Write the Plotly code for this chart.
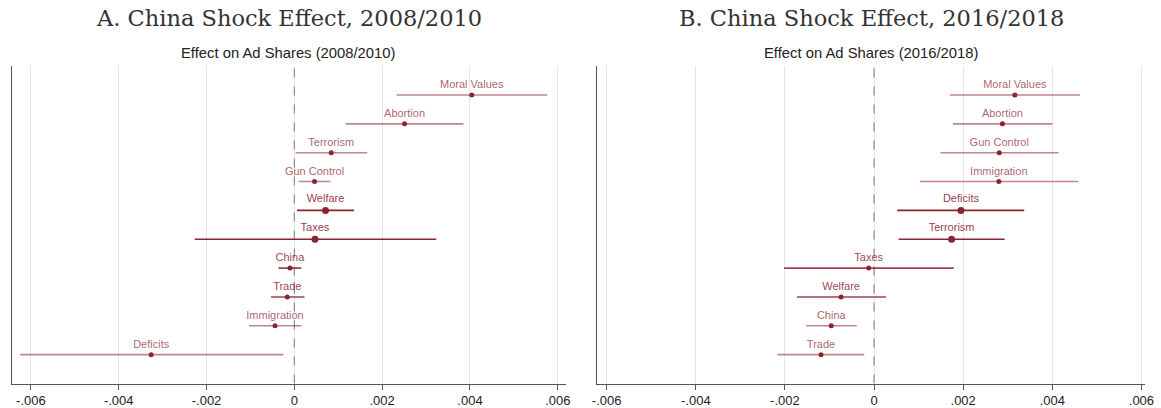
import plotly.graph_objects as go

# ---------------- data ----------------
topics_a = ["Moral Values", "Abortion", "Terrorism", "Gun Control", "Welfare",
            "Taxes", "China", "Trade", "Immigration", "Deficits"]
coef_a = [0.00404, 0.00251, 0.00084, 0.00046, 0.00071, 0.00047, -0.00010, -0.00016, -0.00044, -0.00326]
lo_a = [0.00233, 0.00117, 0.00003, 0.00010, 0.00006, -0.00227, -0.00036, -0.00053, -0.00103, -0.00624]
hi_a = [0.00576, 0.00385, 0.00166, 0.00082, 0.00136, 0.00323, 0.00016, 0.00023, 0.00016, -0.00025]

topics_b = ["Moral Values", "Abortion", "Gun Control", "Immigration", "Deficits",
            "Terrorism", "Taxes", "Welfare", "China", "Trade"]
coef_b = [0.00316, 0.00288, 0.00281, 0.00280, 0.00195, 0.00174, -0.00012, -0.00074, -0.00096, -0.00119]
lo_b = [0.00170, 0.00177, 0.00149, 0.00103, 0.00052, 0.00055, -0.00202, -0.00173, -0.00152, -0.00217]
hi_b = [0.00462, 0.00400, 0.00414, 0.00458, 0.00337, 0.00293, 0.00179, 0.00027, -0.00039, -0.00022]

tick_vals = [-0.006, -0.004, -0.002, 0, 0.002, 0.004, 0.006]
tick_text = ["-.006", "-.004", "-.002", "0", ".002", ".004", ".006"]

panel_titles = ["A. China Shock Effect, 2008/2010", "B. China Shock Effect, 2016/2018"]
sub_titles = ["Effect on Ad Shares (2008/2010)", "Effect on Ad Shares (2016/2018)"]

# emphasis level per row (style): 0 light, 1 medium, 2 dark
emph_a = [0, 0, 0, 0, 2, 2, 1, 1, 0, 0]
emph_b = [0, 0, 0, 0, 2, 2, 1, 1, 0, 0]

# ---------------- styles ----------------
W, H = 1161, 408
line_alpha = {0: 0.55, 1: 0.85, 2: 1.0}
text_alpha = {0: 0.72, 1: 0.85, 2: 0.9}
msize = {0: 5, 1: 5, 2: 7}
base = (140, 35, 50)


def rgba(a):
    return f"rgba({base[0]},{base[1]},{base[2]},{a})"


x_dom = [[12 / W, 565.7 / W], [597.3 / W, 1145 / W]]
x_rng = [[-0.00643, 0.00618], [-0.00621, 0.00608]]
y_bot = 383.5
y_top = 66
row_px = 28.85
y_dom = [1 - y_bot / H, 1 - y_top / H]
y_rng = [0, (y_bot - y_top) / row_px]

fig = go.Figure()

panels = [(topics_a, coef_a, lo_a, hi_a, emph_a), (topics_b, coef_b, lo_b, hi_b, emph_b)]
for p, (tp, cf, lo, hi, em) in enumerate(panels):
    xa = "x" if p == 0 else "x2"
    ya = "y" if p == 0 else "y2"
    n = len(tp)
    pos = [n - i for i in range(n)]
    # zero reference line
    fig.add_trace(go.Scatter(x=[0, 0], y=[y_rng[0], y_rng[1]], mode="lines",
                             line=dict(color="#8a8a8a", width=1.2, dash="dash"),
                             xaxis=xa, yaxis=ya, showlegend=False, hoverinfo="skip"))
    for i in range(n):
        e = em[i]
        fig.add_trace(go.Scatter(x=[lo[i], hi[i]], y=[pos[i], pos[i]], mode="lines",
                                 line=dict(color=rgba(line_alpha[e]), width=1.6),
                                 xaxis=xa, yaxis=ya, showlegend=False, hoverinfo="skip"))
        fig.add_trace(go.Scatter(x=[cf[i]], y=[pos[i]], mode="markers+text",
                                 text=[tp[i]], textposition="top center",
                                 textfont=dict(family="Liberation Sans, Arial, sans-serif", size=11,
                                               color=rgba(text_alpha[e])),
                                 marker=dict(color=rgba(1.0), size=msize[e]),
                                 xaxis=xa, yaxis=ya, showlegend=False))

axis_common = dict(
    showline=True, linecolor="#555555", linewidth=1.3,
    ticks="outside", ticklen=5, tickcolor="#555555", tickwidth=1,
    showgrid=True, gridcolor="#e6e6e6", gridwidth=1,
    zeroline=False, tickvals=tick_vals, ticktext=tick_text,
    tickfont=dict(family="Liberation Sans, Arial, sans-serif", size=13, color="#222222"),
    automargin=False, fixedrange=True,
)
yaxis_common = dict(
    showline=True, linecolor="#555555", linewidth=1.3, showgrid=False, zeroline=False,
    showticklabels=False, ticks="", range=y_rng, automargin=False, fixedrange=True,
)

fig.update_layout(
    width=W, height=H,
    margin=dict(l=0, r=0, t=0, b=0),
    paper_bgcolor="white", plot_bgcolor="white",
    showlegend=False,
    xaxis=dict(domain=x_dom[0], range=x_rng[0], anchor="y", **axis_common),
    xaxis2=dict(domain=x_dom[1], range=x_rng[1], anchor="y2", **axis_common),
    yaxis=dict(domain=y_dom, anchor="x", **yaxis_common),
    yaxis2=dict(domain=y_dom, anchor="x2", **yaxis_common),
)

for p in range(2):
    cx = (x_dom[p][0] + x_dom[p][1]) / 2
    fig.add_annotation(text=panel_titles[p], x=cx, y=1 - 18 / H, xref="paper", yref="paper",
                       xanchor="center", yanchor="middle", showarrow=False,
                       font=dict(family="DejaVu Serif, Liberation Serif, serif", size=22.5, color="#333333"))
    fig.add_annotation(text=sub_titles[p], x=cx, y=1 - 53 / H, xref="paper", yref="paper",
                       xanchor="center", yanchor="middle", showarrow=False,
                       font=dict(family="Liberation Sans, Arial, sans-serif", size=14.8, color="#222222"))

fig.write_html("out.html", config={"displayModeBar": False},
               post_script="document.body.style.margin='0px';")
